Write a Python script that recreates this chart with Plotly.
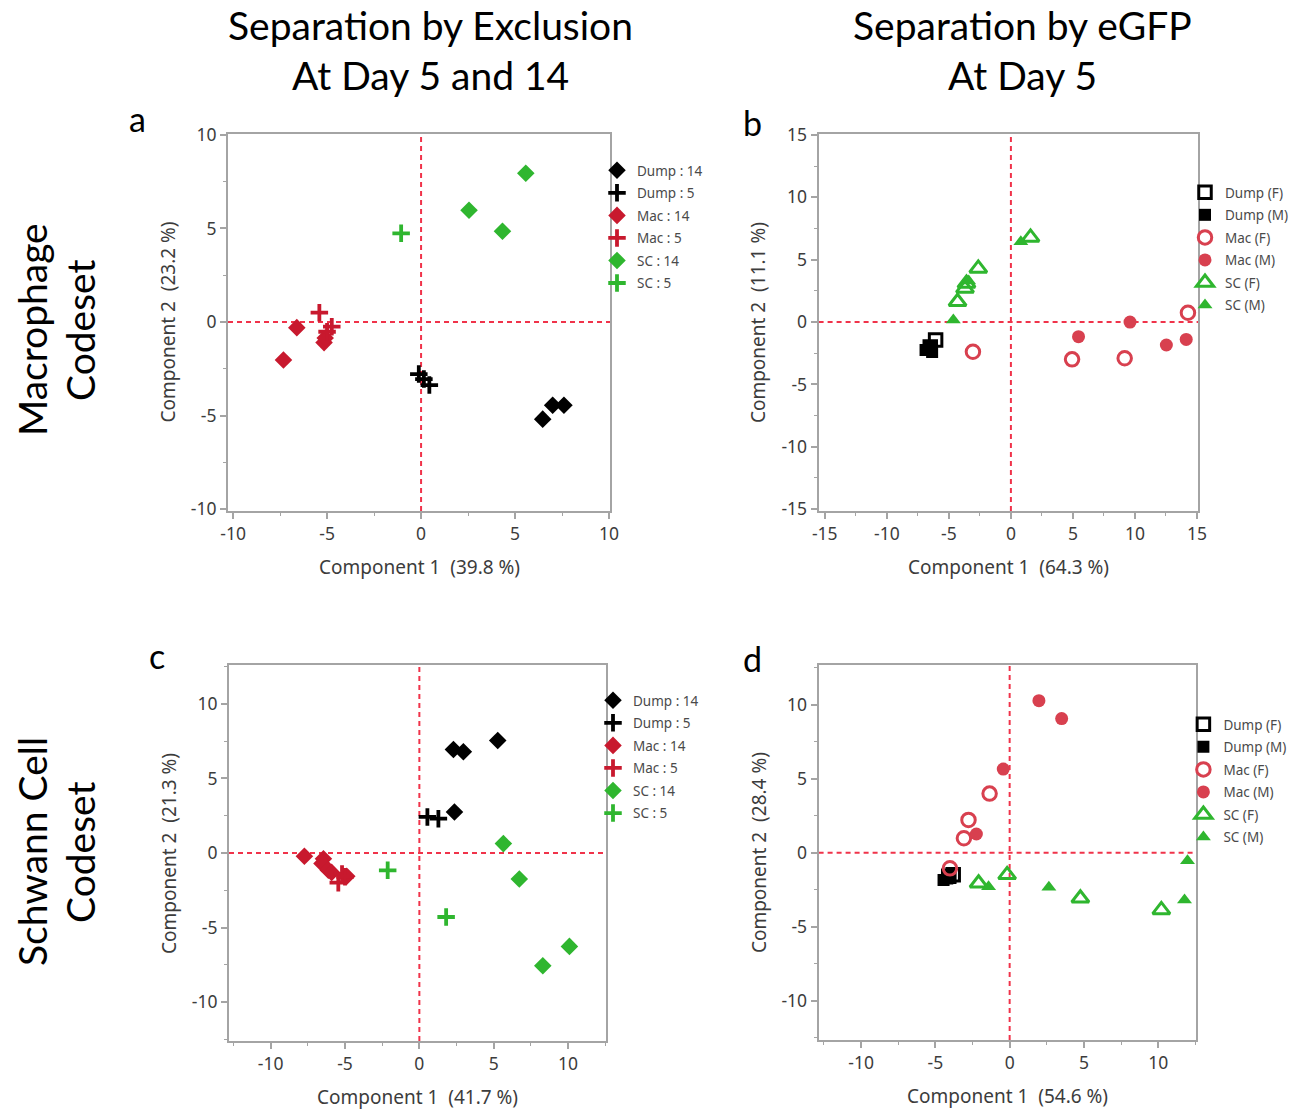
import plotly.graph_objects as go

W, H = 1299, 1109

# ---------------- DATA ----------------
# Panel a: Macrophage codeset, separation by exclusion (Day 5 / Day 14)
a_dump14_x = [6.47, 7.0, 7.6]
a_dump14_y = [-5.19, -4.45, -4.45]
a_dump5_x = [-0.12, 0.15, 0.44]
a_dump5_y = [-2.78, -3.05, -3.37]
a_mac14_x = [-6.61, -7.32, -5.16, -5.1]
a_mac14_y = [-0.3, -2.03, -1.1, -0.85]
a_mac5_x = [-5.41, -4.75, -5.0]
a_mac5_y = [0.5, -0.25, -0.52]
a_sc14_x = [5.57, 2.55, 4.33]
a_sc14_y = [7.95, 5.97, 4.85]
a_sc5_x = [-1.06]
a_sc5_y = [4.74]

# Panel b: Macrophage codeset, separation by eGFP (Day 5)
b_dumpF_x = [-6.07, -6.5]
b_dumpF_y = [-1.44, -2.0]
b_dumpM_x = [-6.88, -6.35, -6.6]
b_dumpM_y = [-2.25, -2.4, -2.0]
b_macF_x = [-3.06, 4.93, 9.17, 14.27]
b_macF_y = [-2.38, -2.99, -2.9, 0.75]
b_macM_x = [5.45, 9.6, 12.53, 14.13]
b_macM_y = [-1.17, 0.0, -1.84, -1.39]
b_scF_x = [1.58, -2.63, -3.58, -3.7, -4.3]
b_scF_y = [6.79, 4.3, 3.1, 2.7, 1.63]
b_scM_x = [0.8, -4.64, -3.4]
b_scM_y = [6.44, 0.16, 3.3]

# Panel c: Schwann cell codeset, separation by exclusion (Day 5 / Day 14)
c_dump14_x = [5.27, 2.29, 2.96, 2.36]
c_dump14_y = [7.54, 6.94, 6.78, 2.75]
c_dump5_x = [0.54, 1.28]
c_dump5_y = [2.42, 2.3]
c_mac14_x = [-7.73, -6.45, -6.55, -6.12, -5.9, -4.88]
c_mac14_y = [-0.22, -0.38, -0.7, -1.16, -1.3, -1.56]
c_mac5_x = [-5.45, -5.2, -5.0]
c_mac5_y = [-1.99, -1.4, -1.6]
c_sc14_x = [5.65, 6.72, 10.09, 8.3]
c_sc14_y = [0.63, -1.74, -6.26, -7.56]
c_sc5_x = [-2.13, 1.8]
c_sc5_y = [-1.16, -4.29]

# Panel d: Schwann cell codeset, separation by eGFP (Day 5)
d_dumpF_x = [-3.8, -4.1]
d_dumpF_y = [-1.5, -1.6]
d_dumpM_x = [-4.45, -4.2, -4.0]
d_dumpM_y = [-1.84, -1.75, -1.65]
d_macF_x = [-1.35, -2.77, -3.08, -4.02]
d_macF_y = [3.99, 2.21, 0.97, -1.06]
d_macM_x = [1.97, 3.5, -0.43, -2.24]
d_macM_y = [10.27, 9.06, 5.65, 1.26]
d_scF_x = [-0.17, -2.09, 4.76, 10.21]
d_scF_y = [-1.5, -2.07, -3.08, -3.87]
d_scM_x = [-1.42, 2.64, 11.97, 11.77]
d_scM_y = [-2.3, -2.33, -0.54, -3.2]

col_title_lines = [["Separation by Exclusion", "At Day 5 and 14"],
                   ["Separation by eGFP", "At Day 5"]]
row_title_lines = [["Macrophage", "Codeset"], ["Schwann Cell", "Codeset"]]
panel_letters = ["a", "b", "c", "d"]
x_titles = ["Component 1\u00a0 (39.8 %)", "Component 1\u00a0 (64.3 %)",
            "Component 1\u00a0 (41.7 %)", "Component 1\u00a0 (54.6 %)"]
y_titles = ["Component 2\u00a0 (23.2 %)", "Component 2\u00a0 (11.1 %)",
            "Component 2\u00a0 (21.3 %)", "Component 2\u00a0 (28.4 %)"]
excl_names = ["Dump : 14", "Dump : 5", "Mac : 14", "Mac : 5", "SC : 14", "SC : 5"]
egfp_names = ["Dump (F)", "Dump (M)", "Mac (F)", "Mac (M)", "SC (F)", "SC (M)"]
tick_vals_10 = [-10, -5, 0, 5, 10]
tick_text_10 = ["-10", "-5", "0", "5", "10"]
tick_vals_15 = [-15, -10, -5, 0, 5, 10, 15]
tick_text_15 = ["-15", "-10", "-5", "0", "5", "10", "15"]

# ---------------- STYLE ----------------
BLACK = "#000000"
RED1 = "#c8192e"
RED2 = "#d8404f"
GREEN = "#2fb62f"
FRAME = "#a4a4a4"
TXT = "#3c3c3c"
REFLINE = "#f0334a"
FONT = "Noto Sans"
TFONT = "Lato"

# panel boxes in pixels: (left, right, top, bottom)
boxes = [(228, 610, 134, 511), (818.6, 1198, 134, 511),
         (229, 606, 665, 1041), (818.6, 1196.4, 665, 1040)]
xranges = [[-10.27, 10.05], [-15.5, 15.08], [-12.8, 12.55], [-12.86, 12.57]]
yranges = [[-10.1, 10.05], [-15.15, 15.08], [-12.6, 12.6], [-12.66, 12.68]]
xticks = [(tick_vals_10, tick_text_10), (tick_vals_15, tick_text_15),
          (tick_vals_10, tick_text_10), (tick_vals_10, tick_text_10)]
yticks = [(tick_vals_10, tick_text_10), (tick_vals_15, tick_text_15),
          (tick_vals_10, tick_text_10), (tick_vals_10, tick_text_10)]


def px_x(p):
    return p / W


def px_y(p):
    return 1 - p / H


fig = go.Figure()


def excl_traces(ax, ay, lg, data):
    (d14x, d14y, d5x, d5y, m14x, m14y, m5x, m5y, s14x, s14y, s5x, s5y) = data
    specs = [
        (d14x, d14y, "diamond", BLACK, False),
        (d5x, d5y, "cross-thin", BLACK, True),
        (m14x, m14y, "diamond", RED1, False),
        (m5x, m5y, "cross-thin", RED1, True),
        (s14x, s14y, "diamond", GREEN, False),
        (s5x, s5y, "cross-thin", GREEN, True),
    ]
    for k, ((xs, ys, sym, c, thin), name) in enumerate(zip(specs, excl_names)):
        if thin:
            mk = dict(symbol=sym, size=12.5, color=c, line=dict(color=c, width=3.8))
        else:
            mk = dict(symbol=sym, size=13.5, color=c, line=dict(width=0))
        fig.add_trace(go.Scatter(x=xs, y=ys, mode="markers", name=name, marker=mk,
                                 xaxis=ax, yaxis=ay, legend=lg,
                                 legendgroup=lg + str(k)))


def egfp_traces(ax, ay, lg, data):
    (dfx, dfy, dmx, dmy, mfx, mfy, mmx, mmy, sfx, sfy, smx, smy) = data
    specs = [
        (dfx, dfy, "square-open", BLACK, 12.5),
        (dmx, dmy, "square", BLACK, 12),
        (mfx, mfy, "circle-open", RED2, 13.5),
        (mmx, mmy, "circle", RED2, 13),
        (sfx, sfy, "triangle-up-open", GREEN, 15),
        (smx, smy, "triangle-up", GREEN, 13),
    ]
    for k, ((xs, ys, sym, c, s), name) in enumerate(zip(specs, egfp_names)):
        if sym.endswith("open"):
            mk = dict(symbol=sym, size=s, color=c, line=dict(color=c, width=3))
        else:
            mk = dict(symbol=sym, size=s, color=c, line=dict(width=0))
        fig.add_trace(go.Scatter(x=xs, y=ys, mode="markers", name=name, marker=mk,
                                 xaxis=ax, yaxis=ay, legend=lg,
                                 legendgroup=lg + str(k)))


excl_traces("x", "y", "legend",
            (a_dump14_x, a_dump14_y, a_dump5_x, a_dump5_y, a_mac14_x, a_mac14_y,
             a_mac5_x, a_mac5_y, a_sc14_x, a_sc14_y, a_sc5_x, a_sc5_y))
egfp_traces("x2", "y2", "legend2",
            (b_dumpF_x, b_dumpF_y, b_dumpM_x, b_dumpM_y, b_macF_x, b_macF_y,
             b_macM_x, b_macM_y, b_scF_x, b_scF_y, b_scM_x, b_scM_y))
excl_traces("x3", "y3", "legend3",
            (c_dump14_x, c_dump14_y, c_dump5_x, c_dump5_y, c_mac14_x, c_mac14_y,
             c_mac5_x, c_mac5_y, c_sc14_x, c_sc14_y, c_sc5_x, c_sc5_y))
egfp_traces("x4", "y4", "legend4",
            (d_dumpF_x, d_dumpF_y, d_dumpM_x, d_dumpM_y, d_macF_x, d_macF_y,
             d_macM_x, d_macM_y, d_scF_x, d_scF_y, d_scM_x, d_scM_y))

layout = dict(
    width=W, height=H, margin=dict(l=0, r=0, t=0, b=0, autoexpand=False),
    paper_bgcolor="white", plot_bgcolor="white",
    font=dict(family=FONT, color=TXT, size=17),
    showlegend=True,
)

annotations = []
shapes = []
for i, (l, r, t, b) in enumerate(boxes):
    sfx = "" if i == 0 else str(i + 1)
    axis_common = dict(
        showgrid=False, zeroline=False, showline=True, mirror=True,
        linecolor=FRAME, linewidth=2, ticks="outside", ticklen=6,
        tickcolor=FRAME, tickwidth=1.5, automargin=False,
        tickfont=dict(family=FONT, size=17.5, color=TXT),
        minor=dict(ticks="outside", ticklen=3, tickcolor=FRAME, tickwidth=1.2, dtick=2.5,
                   tick0=0),
    )
    layout["xaxis" + sfx] = dict(axis_common, domain=[px_x(l), px_x(r)],
                                 range=xranges[i], tickmode="array",
                                 tickvals=xticks[i][0], ticktext=xticks[i][1],
                                 anchor="y" + sfx)
    layout["yaxis" + sfx] = dict(axis_common, domain=[px_y(b), px_y(t)],
                                 range=yranges[i], tickmode="array",
                                 tickvals=yticks[i][0], ticktext=yticks[i][1],
                                 anchor="x" + sfx)
    xr = "x" + sfx
    yr = "y" + sfx
    shapes.append(dict(type="line", xref=xr, yref=yr + " domain", x0=0, x1=0, y0=0, y1=1,
                       line=dict(color=REFLINE, width=2, dash="5px,4px"), layer="below"))
    shapes.append(dict(type="line", xref=xr + " domain", yref=yr, x0=0, x1=1, y0=0, y1=0,
                       line=dict(color=REFLINE, width=2, dash="5px,4px"), layer="below"))
    # axis titles
    annotations.append(dict(text=x_titles[i], xref="paper", yref="paper",
                            x=px_x((l + r) / 2), y=px_y(b + 56), xanchor="center",
                            yanchor="middle", showarrow=False,
                            font=dict(family=FONT, size=19, color=TXT)))
    annotations.append(dict(text=y_titles[i], xref="paper", yref="paper",
                            x=px_x(l - 60), y=px_y((t + b) / 2), xanchor="center",
                            yanchor="middle", showarrow=False, textangle=-90,
                            font=dict(family=FONT, size=19, color=TXT)))
    # legends
    lg = "legend" + ("" if i == 0 else str(i + 1))
    legy = [155, 177, 685, 709][i]
    layout[lg] = dict(x=px_x(r - 13), y=px_y(legy), xanchor="left", yanchor="top",
                      bgcolor="rgba(0,0,0,0)", borderwidth=0,
                      font=dict(family=FONT, size=13.5, color="#4a4a4a"),
                      itemsizing="trace", tracegroupgap=2)

# panel letters
for (lx, ly), letter in zip([(137, 118), (752, 122), (157, 655), (752, 658)], panel_letters):
    annotations.append(dict(text=letter, xref="paper", yref="paper", x=px_x(lx), y=px_y(ly),
                            xanchor="center", yanchor="middle", showarrow=False,
                            font=dict(family=TFONT, size=34, color="#000000")))

# column titles (one annotation per line)
for cx, lines in zip([430, 1022], col_title_lines):
    for ly, txt in zip([25, 75], lines):
        annotations.append(dict(text=txt, xref="paper", yref="paper", x=px_x(cx), y=px_y(ly),
                                xanchor="center", yanchor="middle", showarrow=False,
                                font=dict(family=TFONT, size=39, color="#000000")))

# row titles
for cy, lines in zip([330, 852], row_title_lines):
    for lx, txt in zip([32, 80], lines):
        annotations.append(dict(text=txt, xref="paper", yref="paper", x=px_x(lx), y=px_y(cy),
                                xanchor="center", yanchor="middle", showarrow=False,
                                textangle=-90,
                                font=dict(family=TFONT, size=39, color="#000000")))

layout["annotations"] = annotations
layout["shapes"] = shapes
fig.update_layout(**layout)
fig.write_html("out.html",
               config={"displayModeBar": False},
               post_script="document.body.style.margin='0px';"
                           "document.body.style.overflow='hidden';")
